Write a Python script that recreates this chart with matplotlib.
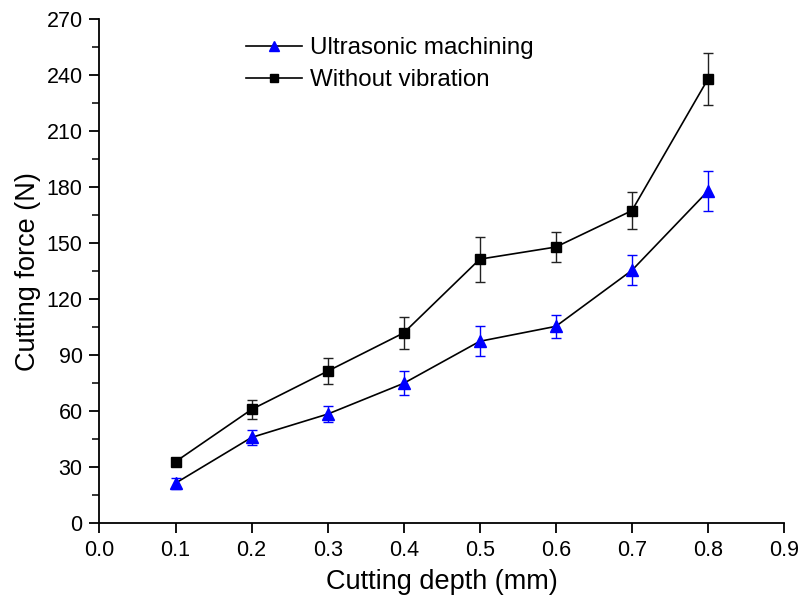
import matplotlib
matplotlib.use("Agg")
import matplotlib.pyplot as plt
from matplotlib.ticker import MultipleLocator

plt.rcParams['font.family'] = ['Liberation Sans', 'DejaVu Sans']

depth = [0.1, 0.2, 0.3, 0.4, 0.5, 0.6, 0.7, 0.8]
ultra = [21.5, 46, 58.5, 75, 97.5, 105.5, 135.5, 178]
ultra_err = [3, 4, 4.5, 6.5, 8, 6, 8, 10.5]
novib = [33, 61, 81.5, 102, 141.5, 148, 167.5, 238]
novib_err = [2, 5, 7, 8.5, 12, 8, 10, 14]

x_ticks = [0.0, 0.1, 0.2, 0.3, 0.4, 0.5, 0.6, 0.7, 0.8, 0.9]
y_ticks = [0, 30, 60, 90, 120, 150, 180, 210, 240, 270]

fig = plt.figure(figsize=(8.01, 6.01), dpi=100)
ax = fig.add_axes([0.1242, 0.1293, 0.8546, 0.8386])

ax.errorbar(depth, ultra, yerr=ultra_err, fmt='none', ecolor='#0000ff',
            elinewidth=1.0, capsize=3.5, capthick=1.0, zorder=2)
ax.errorbar(depth, novib, yerr=novib_err, fmt='none', ecolor='#222222',
            elinewidth=1.0, capsize=3.5, capthick=1.0, zorder=2)
ax.plot(depth, ultra, color='black', lw=1.2, marker='^', ms=9,
        mfc='#0000ff', mec='#0000ff', label='Ultrasonic machining', zorder=3)
ax.plot(depth, novib, color='black', lw=1.2, marker='s', ms=7,
        mfc='black', mec='black', label='Without vibration', zorder=3)

ax.set_xlim(0.0, 0.9)
ax.set_ylim(0, 270)
ax.set_xticks(x_ticks)
ax.set_xticklabels([f'{v:.1f}' for v in x_ticks])
ax.set_yticks(y_ticks)
ax.yaxis.set_minor_locator(MultipleLocator(15))

for s in ['top', 'right']:
    ax.spines[s].set_visible(False)
for s in ['left', 'bottom']:
    ax.spines[s].set_linewidth(1.3)

ax.tick_params(axis='both', which='major', direction='out', length=7.2, width=1.3,
               labelsize=15.5, pad=5)
ax.tick_params(axis='y', which='minor', direction='out', length=4.8, width=1.1)

ax.set_xlabel('Cutting depth (mm)', fontsize=19.5, labelpad=5.5)
ax.set_ylabel('Cutting force (N)', fontsize=19.5, labelpad=4)

ax.legend(loc='upper left', bbox_to_anchor=(246 / 801, 1 - 37 / 601),
          bbox_transform=fig.transFigure, frameon=False, borderpad=0,
          borderaxespad=0, fontsize=17.4, handlelength=2.3, handletextpad=0.33,
          labelspacing=0.42, markerscale=0.8)

fig.savefig('out.png', dpi=100)
